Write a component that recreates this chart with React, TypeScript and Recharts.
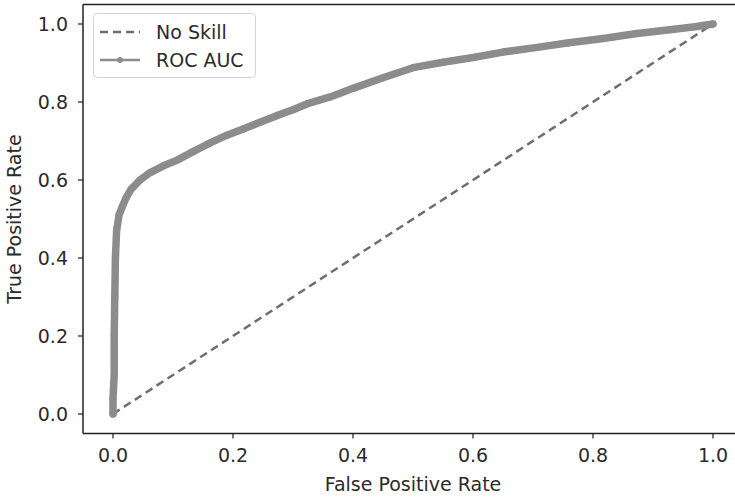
import React from "react"
import {
  ComposedChart,
  Line,
  XAxis,
  YAxis,
  Legend,
  ReferenceLine,
} from "recharts"

// ROC curve
const fpr = [
  0, 0, 0.002, 0.002, 0.003, 0.004, 0.006, 0.01, 0.015, 0.022, 0.03, 0.045, 0.062, 0.085,
  0.107, 0.135, 0.162, 0.19, 0.217, 0.245, 0.273, 0.3, 0.323, 0.362, 0.4, 0.45, 0.5, 0.55,
  0.6, 0.65, 0.707, 0.76, 0.817, 0.87, 0.928, 0.97, 1,
]
const tpr = [
  0, 0.04, 0.1, 0.2, 0.3, 0.4, 0.47, 0.51, 0.53, 0.555, 0.576, 0.6, 0.619, 0.637,
  0.651, 0.674, 0.695, 0.715, 0.731, 0.748, 0.765, 0.78, 0.795, 0.813, 0.835, 0.862, 0.888, 0.902,
  0.914, 0.928, 0.94, 0.952, 0.963, 0.975, 0.985, 0.993, 1,
]

const noSkillX = [0, 1]
const noSkillY = [0, 1]

const ticks = [0, 0.2, 0.4, 0.6, 0.8, 1.0]

const roc = fpr.map((x, i) => ({ x, y: tpr[i] }))
const noSkill = noSkillX.map((x, i) => ({ x, y: noSkillY[i] }))

const FONT = "DejaVu Sans"
const TEXT = "#2b2b2b"
const ROC_COLOR = "#8c8c8c"
const DASH_COLOR = "#6e6e6e"
const FS = 19

function LegendBox() {
  return (
    <div
      style={{
        width: 163,
        height: 65,
        border: "1px solid #d4d4d4",
        borderRadius: 4,
        background: "#fff",
        fontFamily: FONT,
        fontSize: FS,
        color: TEXT,
        boxSizing: "border-box",
        paddingTop: 4,
        textAlign: "left",
      }}
    >
      <div style={{ display: "flex", alignItems: "center", height: 28 }}>
        <svg width={58} height={10} style={{ marginLeft: 4 }}>
          <line x1={2} y1={5} x2={42} y2={5} stroke={DASH_COLOR} strokeWidth={2.5} strokeDasharray="8 5" />
        </svg>
        <span>No Skill</span>
      </div>
      <div style={{ display: "flex", alignItems: "center", height: 28 }}>
        <svg width={58} height={10} style={{ marginLeft: 4 }}>
          <line x1={2} y1={5} x2={42} y2={5} stroke={ROC_COLOR} strokeWidth={2.5} />
          <circle cx={22} cy={5} r={3} fill={ROC_COLOR} />
        </svg>
        <span>ROC AUC</span>
      </div>
    </div>
  )
}

export default function App() {
  return (
    <div
      style={{
        position: "absolute",
        left: 0,
        top: 0,
        width: 735,
        height: 498,
        overflow: "hidden",
        background: "#fff",
      }}
    >
      <ComposedChart
        width={745}
        height={498}
        margin={{ top: 4.5, right: 2, bottom: 0, left: 0 }}
      >
        <XAxis
          type="number"
          dataKey="x"
          domain={[-0.05, 1.05]}
          ticks={ticks}
          allowDataOverflow
          height={64.5}
          tickSize={5}
          tickMargin={10}
          tickFormatter={(v: number) => v.toFixed(1)}
          tick={{ fontFamily: FONT, fontSize: FS, fill: TEXT }}
          axisLine={{ stroke: "#222", strokeWidth: 1.5 }}
          tickLine={{ stroke: "#222", strokeWidth: 1.2 }}
          label={{
            value: "False Positive Rate",
            position: "insideBottom",
            offset: 7,
            fontFamily: FONT,
            fontSize: FS,
            fill: TEXT,
          }}
        />
        <YAxis
          type="number"
          dataKey="y"
          domain={[-0.05, 1.05]}
          ticks={ticks}
          allowDataOverflow
          width={83}
          tickSize={5}
          tickMargin={10}
          tickFormatter={(v: number) => v.toFixed(1)}
          tick={{ fontFamily: FONT, fontSize: FS, fill: TEXT }}
          axisLine={{ stroke: "#222", strokeWidth: 1.5 }}
          tickLine={{ stroke: "#222", strokeWidth: 1.2 }}
          label={{
            content: (props: any) => {
              const vb = props.viewBox || { x: 0, y: 0, height: 0 }
              const cx = vb.x + 14
              const cy = vb.y + vb.height / 2
              return (
                <text
                  x={cx}
                  y={cy}
                  transform={`rotate(-90 ${cx} ${cy})`}
                  textAnchor="middle"
                  dominantBaseline="central"
                  fontFamily={FONT}
                  fontSize={FS}
                  fill={TEXT}
                >
                  True Positive Rate
                </text>
              )
            },
          }}
        />
        <ReferenceLine y={1.05} stroke="#222" strokeWidth={1.5} />
        <Line
          data={noSkill}
          dataKey="y"
          name="No Skill"
          type="linear"
          stroke={DASH_COLOR}
          strokeWidth={2.5}
          strokeDasharray="8 5"
          dot={false}
          isAnimationActive={false}
        />
        <Line
          data={roc}
          dataKey="y"
          name="ROC AUC"
          type="linear"
          stroke={ROC_COLOR}
          strokeWidth={7.5}
          strokeLinecap="round"
          strokeLinejoin="round"
          dot={{ r: 3.5, fill: ROC_COLOR, stroke: "none" }}
          isAnimationActive={false}
        />
        <Legend
          layout="horizontal"
          verticalAlign="middle"
          align="center"
          content={() => <LegendBox />}
          wrapperStyle={{ left: 93, top: 13, width: 163, height: 65 }}
        />
      </ComposedChart>
    </div>
  )
}
